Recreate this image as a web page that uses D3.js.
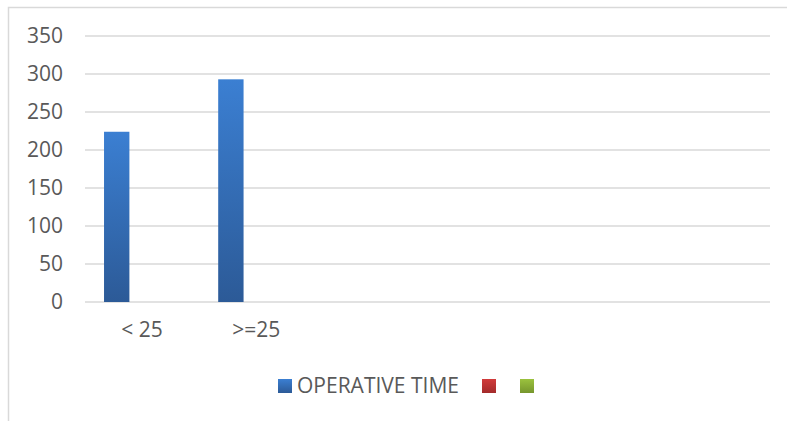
<!DOCTYPE html>
<meta charset="utf-8">
<html>
<head>
<title>Operative time</title>
</head>
<style>
  body { margin: 0; background: #fff; }
  .axis text, .legend text { font-family: "Open Sans", "Liberation Sans", sans-serif; fill: #595959; }
  .grid line { stroke: #d9d9d9; stroke-width: 1.6; }
</style>
<script src="https://d3js.org/d3.v7.min.js"></script>
<body>
<svg width="787" height="421"></svg>
</body>
<script>
  // data
  var categories = ["< 25", ">=25", "", "", "", ""];
  var seriesNames = ["OPERATIVE TIME", "", ""];
  var operativeTime = [224, 293, null, null, null, null];
  var series2 = [null, null, null, null, null, null];
  var series3 = [null, null, null, null, null, null];
  var yTicks = [0, 50, 100, 150, 200, 250, 300, 350];

  var seriesValues = [operativeTime, series2, series3];
  var colors = [["#3b7fd2", "#2c5a97"], ["#d13b3b", "#a32b2b"], ["#9bc23e", "#76962d"]];

  var svg = d3.select("svg");

  // chart border (only top and left visible in the frame)
  svg.append("rect")
      .attr("x", 8.5).attr("y", 7.5)
      .attr("width", 800).attr("height", 430)
      .attr("fill", "none")
      .attr("stroke", "#d9d9d9")
      .attr("stroke-width", 1.5);

  var plotLeft = 85, plotRight = 770, plotTop = 36, plotBottom = 302;

  var x = d3.scaleBand()
      .domain(d3.range(categories.length))
      .range([plotLeft, plotRight]);
  var x1 = d3.scaleBand()
      .domain(d3.range(seriesValues.length))
      .range([0, x.bandwidth()])
      .paddingInner(0)
      .paddingOuter(0.75);
  var y = d3.scaleLinear()
      .domain([0, 350])
      .range([plotBottom, plotTop]);

  // gradients
  var defs = svg.append("defs");
  colors.forEach(function (c, i) {
    var g = defs.append("linearGradient")
        .attr("id", "grad" + i)
        .attr("x1", 0).attr("y1", 0).attr("x2", 0).attr("y2", 1);
    g.append("stop").attr("offset", "0%").attr("stop-color", c[0]);
    g.append("stop").attr("offset", "100%").attr("stop-color", c[1]);
  });

  // gridlines
  svg.append("g")
      .attr("class", "grid")
      .selectAll("line")
      .data(yTicks)
      .enter().append("line")
      .attr("x1", plotLeft).attr("x2", plotRight)
      .attr("y1", function (d) { return y(d); })
      .attr("y2", function (d) { return y(d); });

  // y axis labels
  var yAxis = svg.append("g")
      .attr("class", "axis")
      .attr("transform", "translate(" + (plotLeft - 22) + ",0)")
      .call(d3.axisLeft(y).tickValues(yTicks).tickSize(0).tickPadding(0));
  yAxis.select(".domain").remove();
  yAxis.selectAll("text").style("font-size", "21px");

  // x axis labels
  var xAxis = svg.append("g")
      .attr("class", "axis")
      .attr("transform", "translate(0," + (plotBottom + 20) + ")")
      .call(d3.axisBottom(x).tickFormat(function (i) { return categories[i]; }).tickSize(0).tickPadding(0));
  xAxis.select(".domain").remove();
  xAxis.selectAll("text").style("font-size", "21px");

  // bars
  seriesValues.forEach(function (vals, s) {
    svg.append("g")
        .selectAll("rect")
        .data(vals.map(function (v, i) { return { i: i, v: v }; }).filter(function (d) { return d.v != null; }))
        .enter().append("rect")
        .attr("x", function (d) { return x(d.i) + x1(s); })
        .attr("width", x1.bandwidth())
        .attr("y", function (d) { return y(d.v); })
        .attr("height", function (d) { return y(0) - y(d.v); })
        .attr("fill", "url(#grad" + s + ")");
  });

  // legend
  var legend = svg.append("g").attr("class", "legend");
  var legendX = [278, 482, 520];
  seriesNames.forEach(function (name, s) {
    legend.append("rect")
        .attr("x", legendX[s]).attr("y", 379)
        .attr("width", 14).attr("height", 14)
        .attr("fill", "url(#grad" + s + ")");
    legend.append("text")
        .attr("x", legendX[s] + 19).attr("y", 393)
        .style("font-size", "21px")
        .text(name);
  });
</script>
</html>
